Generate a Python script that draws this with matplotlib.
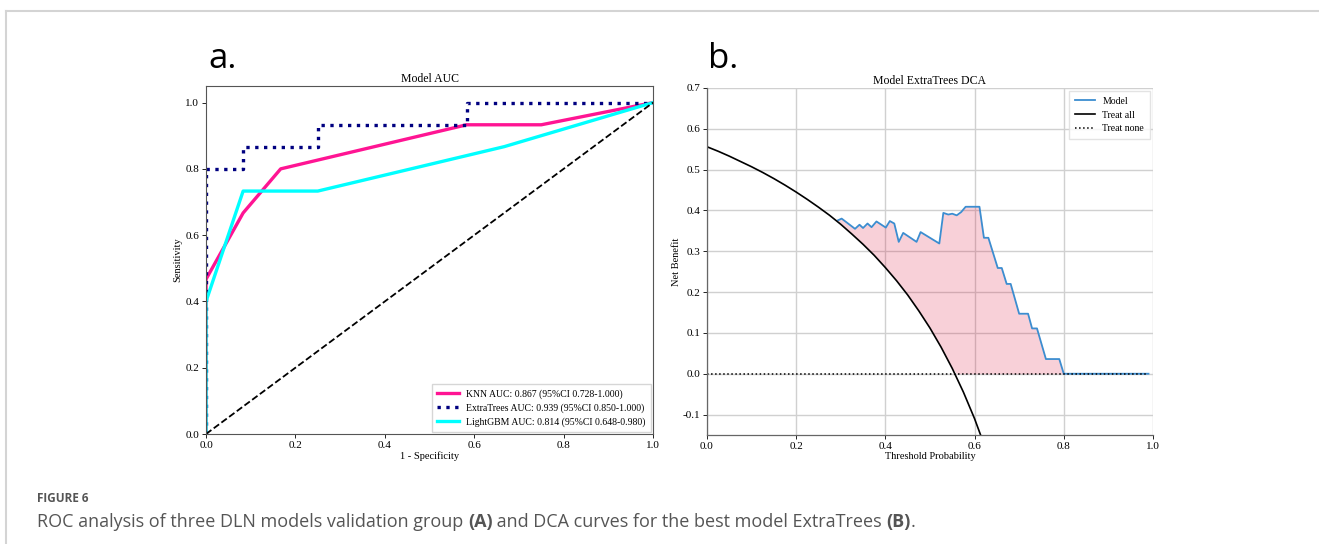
import numpy as np
import matplotlib
matplotlib.use("Agg")
from matplotlib import pyplot as plt
from matplotlib.lines import Line2D

# ---- ROC data (panel a) ----
knn_fpr = [0.0, 0.0, 0.083, 0.167, 0.583, 0.75, 1.0]
knn_tpr = [0.0, 0.467, 0.667, 0.8, 0.933, 0.933, 1.0]

et_fpr = [0.0, 0.0, 0.083, 0.083, 0.25, 0.25, 0.583, 0.583, 1.0]
et_tpr = [0.0, 0.8, 0.8, 0.867, 0.867, 0.933, 0.933, 1.0, 1.0]

lgbm_fpr = [0.0, 0.0, 0.083, 0.25, 0.667, 1.0]
lgbm_tpr = [0.0, 0.4, 0.733, 0.733, 0.867, 1.0]

roc_labels = [
    "KNN AUC: 0.867 (95%CI 0.728-1.000)",
    "ExtraTrees AUC: 0.939 (95%CI 0.850-1.000)",
    "LightGBM AUC: 0.814 (95%CI 0.648-0.980)",
]

# ---- DCA data (panel b) ----
all_thresh = [0.0, 0.025, 0.05, 0.075, 0.1, 0.125, 0.15, 0.175, 0.2, 0.225, 0.25,
              0.275, 0.3, 0.325, 0.35, 0.375, 0.4, 0.425, 0.45, 0.475, 0.5,
              0.525, 0.55, 0.575, 0.6, 0.625]
all_nb = [0.556, 0.545, 0.533, 0.520, 0.507, 0.493, 0.478, 0.462, 0.445, 0.427, 0.408,
          0.388, 0.366, 0.342, 0.317, 0.290, 0.260, 0.228, 0.193, 0.154, 0.112,
          0.065, 0.013, -0.045, -0.110, -0.184]

model_thresh = [0.294, 0.302, 0.332, 0.342, 0.350, 0.360, 0.369, 0.380, 0.401, 0.410,
                0.420, 0.430, 0.440, 0.470, 0.479, 0.521, 0.530, 0.541, 0.550, 0.560,
                0.570, 0.580, 0.611, 0.621, 0.631, 0.652, 0.661, 0.672, 0.681, 0.700,
                0.720, 0.729, 0.740, 0.760, 0.790, 0.800, 0.990]
model_nb = [0.376, 0.380, 0.355, 0.365, 0.357, 0.368, 0.359, 0.373, 0.358, 0.374,
            0.368, 0.323, 0.345, 0.323, 0.347, 0.319, 0.394, 0.390, 0.392, 0.388,
            0.396, 0.409, 0.409, 0.333, 0.333, 0.259, 0.259, 0.220, 0.220, 0.147,
            0.147, 0.111, 0.111, 0.036, 0.036, 0.0, 0.0]

none_thresh = [0.0, 0.99]
none_nb = [0.0, 0.0]

plt.rcParams["font.family"] = ["Liberation Serif", "DejaVu Serif"]

fig = plt.figure(figsize=(13.19, 5.44), dpi=100)

# outer frame like the article page
fig.add_artist(Line2D([6 / 1319, 1.0], [1 - 11 / 544, 1 - 11 / 544], color="#d4d4d4", lw=1.5))
fig.add_artist(Line2D([6 / 1319, 6 / 1319], [0.0, 1 - 11 / 544], color="#d4d4d4", lw=1.5))

# ---------- panel a ----------
ax1 = fig.add_axes([0.1562, 0.2022, 0.3389, 0.6397])
ax1.plot(knn_fpr, knn_tpr, color="deeppink", lw=2.4, label=roc_labels[0])
ax1.plot(et_fpr, et_tpr, color="navy", lw=2.4, linestyle=":", label=roc_labels[1])
ax1.plot(lgbm_fpr, lgbm_tpr, color="aqua", lw=2.4, label=roc_labels[2])
ax1.plot([0, 1], [0, 1], color="black", lw=1.3, linestyle="--")
ax1.set_xlim(0, 1.0)
ax1.set_ylim(0, 1.05)
ax1.set_xticks(np.arange(0, 1.01, 0.2))
ax1.set_yticks(np.arange(0, 1.01, 0.2))
ax1.tick_params(labelsize=8, length=3, width=0.6, pad=2)
ax1.set_title("Model AUC", fontsize=8.5, pad=3)
ax1.set_xlabel("1 - Specificity", fontsize=7.5, labelpad=1)
ax1.set_ylabel("Sensitivity", fontsize=7.5, labelpad=2)
for sp in ax1.spines.values():
    sp.set_color("#555555")
    sp.set_linewidth(0.8)
leg1 = ax1.legend(loc="lower right", fontsize=7, handlelength=2.2, borderpad=0.5,
                  labelspacing=0.45, borderaxespad=0.25, fancybox=False)
leg1.get_frame().set_edgecolor("#cccccc")

# ---------- panel b ----------
ax2 = fig.add_axes([0.5360, 0.2004, 0.3381, 0.6379])
ax2.grid(True, color="#d0d0d0", lw=1.0)
ax2.set_axisbelow(True)
model_x = np.array(model_thresh)
model_y = np.array(model_nb)
floor = np.maximum(np.interp(model_x, all_thresh, all_nb), 0.0)
ax2.fill_between(model_x, model_y, floor, where=model_y >= floor,
                 color="crimson", alpha=0.2, lw=0)
ax2.plot(model_x, model_y, color="#3c8dd0", lw=1.3, label="Model")
ax2.plot(all_thresh, all_nb, color="black", lw=1.2, label="Treat all")
ax2.plot(none_thresh, none_nb, color="black", lw=1.1, linestyle=":", label="Treat none")
ax2.set_xlim(0, 1.0)
ax2.set_ylim(-0.15, 0.7)
ax2.set_xticks(np.arange(0, 1.01, 0.2))
ax2.set_yticks(np.arange(-0.1, 0.71, 0.1))
ax2.set_yticklabels([f"{v:.1f}" for v in np.arange(-0.1, 0.71, 0.1)])
ax2.tick_params(labelsize=8, length=3, width=0.6, pad=2)
ax2.set_title("Model ExtraTrees DCA", fontsize=8.5, pad=3)
ax2.set_xlabel("Threshold Probability", fontsize=7.5, labelpad=1)
ax2.set_ylabel("Net Benefit", fontsize=7.5, labelpad=1)
ax2.spines["top"].set_visible(False)
ax2.spines["right"].set_visible(False)
for sp in ("left", "bottom"):
    ax2.spines[sp].set_color("#666666")
    ax2.spines[sp].set_linewidth(0.9)
leg2 = ax2.legend(loc="upper right", fontsize=7, handlelength=2.0, borderpad=0.6,
                  labelspacing=0.5, borderaxespad=0.3, fancybox=False)
leg2.get_frame().set_edgecolor("#dddddd")

# panel letters
fig.text(208 / 1319, 1 - 68 / 544, "a.", family="Open Sans", fontsize=25, color="black")
fig.text(708 / 1319, 1 - 68 / 544, "b.", family="Open Sans", fontsize=25, color="black")

# caption
fig.text(37 / 1319, 1 - 502 / 544, "FIGURE 6", family="Open Sans", fontsize=8.5,
         fontweight="bold", color="#555555")
renderer = fig.canvas.get_renderer()
parts = [
    ("ROC analysis of three DLN models validation group ", "normal"),
    ("(A)", "bold"),
    (" and DCA curves for the best model ExtraTrees ", "normal"),
    ("(B)", "bold"),
    (".", "normal"),
]
x = 37 / 1319
for txt, wt in parts:
    t = fig.text(x, 1 - 527 / 544, txt, family="Open Sans", fontsize=13,
                 fontweight=wt, color="#555555")
    bb = t.get_window_extent(renderer=renderer)
    x += bb.width / fig.bbox.width

fig.savefig("out.png", dpi=100)
